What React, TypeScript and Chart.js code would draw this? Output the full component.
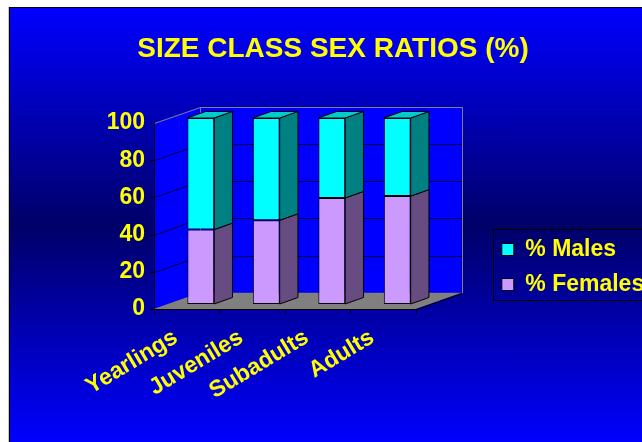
import React, { useEffect, useRef } from 'react';
import { Chart, registerables } from 'chart.js';

Chart.register(...registerables);

// ---- data ----
const TITLE = 'SIZE CLASS SEX RATIOS (%)';
const categories = ['Yearlings', 'Juveniles', 'Subadults', 'Adults'];
const femalesPct = [40, 45, 57, 58];
const malesPct = [60, 55, 43, 42];
const seriesNames = ['% Females', '% Males'];
const yMin = 0;
const yMax = 100;
const yStep = 20;

// ---- styles ----
const FONT = "'Liberation Sans', Arial, Helvetica, sans-serif";
const YELLOW = '#FFFF00';
const FEMALE_FRONT = '#CC99FF';
const FEMALE_SIDE = '#664C80';
const FEMALE_TOP = '#A37ACC';
const MALE_FRONT = '#00FFFF';
const MALE_SIDE = '#008080';
const MALE_TOP = '#00CCCC';
const WALL = '#0000FF';
const FLOOR = '#808080';
const FRAME = '#808080';
const GRID = '#000040';

// 3D projection: full depth vector and where the bar plane sits within it
const DEPTH_X = 45.7;
const DEPTH_Y = -16.3;
const BAR_PLANE = 0.31;
const BAR_DEPTH = 0.4;

const sideColors = [FEMALE_SIDE, MALE_SIDE];
const topColors = [FEMALE_TOP, MALE_TOP];

const snap = (v: number) => Math.round(v) + 0.5;

const threeD = {
  id: 'threeD',
  afterLayout(chart: any) {
    const lg = chart.legend;
    if (lg) {
      lg.left = 489.8;
      lg.top = 226;
      lg.right = 760;
      lg.bottom = 340;
      lg.width = lg.right - lg.left;
      lg.height = lg.bottom - lg.top;
    }
  },
  beforeDatasetsDraw(chart: any) {
    const { ctx, chartArea } = chart;
    const ys = chart.scales.y;
    const fdx = -BAR_PLANE * DEPTH_X;
    const fdy = -BAR_PLANE * DEPTH_Y;
    const bdx = (1 - BAR_PLANE) * DEPTH_X;
    const bdy = (1 - BAR_PLANE) * DEPTH_Y;
    const L = chartArea.left;
    const R = chartArea.right;
    const y0 = ys.getPixelForValue(yMin);
    const y1 = ys.getPixelForValue(yMax);
    const F = (x: number, y: number): [number, number] => [x + fdx, y + fdy];
    const B = (x: number, y: number): [number, number] => [x + bdx, y + bdy];

    const poly = (pts: [number, number][], fill: string) => {
      ctx.beginPath();
      pts.forEach((p, i) => (i ? ctx.lineTo(p[0], p[1]) : ctx.moveTo(p[0], p[1])));
      ctx.closePath();
      ctx.fillStyle = fill;
      ctx.fill();
    };
    const line = (pts: [number, number][], color: string) => {
      ctx.beginPath();
      pts.forEach((p, i) => (i ? ctx.lineTo(snap(p[0]), snap(p[1])) : ctx.moveTo(snap(p[0]), snap(p[1]))));
      ctx.strokeStyle = color;
      ctx.lineWidth = 1;
      ctx.stroke();
    };

    ctx.save();
    // walls and floor
    poly([B(L, y1), B(R, y1), B(R, y0), B(L, y0)], WALL);
    poly([F(L, y0), F(L, y1), B(L, y1), B(L, y0)], WALL);
    poly([F(L, y0), F(R, y0), B(R, y0), B(L, y0)], FLOOR);

    // gridlines on left and back walls
    ys.ticks.forEach((t: any) => {
      if (t.value <= yMin || t.value >= yMax) return;
      const py = ys.getPixelForValue(t.value);
      line([F(L, py), B(L, py), B(R, py)], GRID);
    });

    // wall frame
    line([F(L, y1), B(L, y1), B(R, y1), B(R, y0)], FRAME);
    line([B(L, y1), B(L, y0)], FRAME);
    line([F(L, y0), B(L, y0)], FRAME);

    // front axes
    line([F(L, y1), F(L, y0), F(R, y0), B(R, y0)], '#000000');
    ys.ticks.forEach((t: any) => {
      const p = F(L, ys.getPixelForValue(t.value));
      line([[p[0] - 4, p[1]], p], '#000000');
    });
    const n = categories.length;
    const cw = (R - L) / n;
    for (let i = 0; i <= n; i++) {
      const p = F(L + i * cw, y0);
      line([p, [p[0], p[1] + 4]], '#000000');
    }

    // bar sides and tops
    const sx = BAR_DEPTH * DEPTH_X;
    const sy = BAR_DEPTH * DEPTH_Y;
    const nds = chart.data.datasets.length;
    for (let d = 0; d < nds; d++) {
      const meta = chart.getDatasetMeta(d);
      meta.data.forEach((el: any) => {
        const { x, y, base, width } = el.getProps(['x', 'y', 'base', 'width'], true);
        const left = x - width / 2;
        const right = x + width / 2;
        const top = Math.min(y, base);
        const bottom = Math.max(y, base);
        const side: [number, number][] = [
          [right, top],
          [right + sx, top + sy],
          [right + sx, bottom + sy],
          [right, bottom],
        ];
        poly(side, sideColors[d]);
        ctx.beginPath();
        side.forEach((p, i) => (i ? ctx.lineTo(p[0], p[1]) : ctx.moveTo(p[0], p[1])));
        ctx.closePath();
        ctx.strokeStyle = '#000000';
        ctx.lineWidth = 1;
        ctx.stroke();
        if (d === nds - 1) {
          const topFace: [number, number][] = [
            [left, top],
            [left + sx, top + sy],
            [right + sx, top + sy],
            [right, top],
          ];
          poly(topFace, topColors[d]);
          ctx.beginPath();
          topFace.forEach((p, i) => (i ? ctx.lineTo(p[0], p[1]) : ctx.moveTo(p[0], p[1])));
          ctx.closePath();
          ctx.stroke();
        }
      });
    }
    ctx.restore();
  },
  afterDraw(chart: any) {
    const lg = chart.legend;
    if (!lg) return;
    const { ctx } = chart;
    ctx.save();
    ctx.strokeStyle = '#000000';
    ctx.lineWidth = 1;
    ctx.strokeRect(Math.round(lg.left + 2.7) + 0.5, Math.round(lg.top + 3) + 0.5, 300, 71);
    ctx.restore();
  },
};

export default function App() {
  const ref = useRef<HTMLCanvasElement>(null);

  useEffect(() => {
    const canvas = ref.current;
    if (!canvas) return;
    const tickFont = { family: FONT, size: 23, weight: 'bold' as const };
    const chart = new Chart(canvas, {
      type: 'bar',
      data: {
        labels: categories,
        datasets: [
          {
            label: seriesNames[0],
            data: femalesPct,
            backgroundColor: FEMALE_FRONT,
            borderColor: '#000000',
            borderWidth: 1,
            borderSkipped: false,
            barPercentage: 0.41,
            categoryPercentage: 1,
          },
          {
            label: seriesNames[1],
            data: malesPct,
            backgroundColor: MALE_FRONT,
            borderColor: '#000000',
            borderWidth: 1,
            borderSkipped: false,
            barPercentage: 0.41,
            categoryPercentage: 1,
          },
        ],
      },
      options: {
        responsive: false,
        animation: false,
        devicePixelRatio: 1,
        layout: { padding: { left: 96, right: 72, top: 0, bottom: 0 } },
        plugins: {
          title: {
            display: true,
            text: TITLE,
            color: YELLOW,
            font: { family: FONT, size: 28, weight: 'bold', lineHeight: 1.2 },
            padding: { top: 32.2, bottom: 52.2 },
          },
          legend: {
            display: true,
            position: 'right',
            align: 'start',
            reverse: true,
            fullSize: false,
            maxWidth: 140,
            labels: {
              color: YELLOW,
              font: tickFont,
              boxWidth: 12,
              boxHeight: 12,
              padding: 12,
            },
          },
          tooltip: { enabled: false },
        },
        scales: {
          x: {
            stacked: true,
            grid: { display: false, drawTicks: false },
            border: { display: false },
            ticks: {
              color: YELLOW,
              font: tickFont,
              minRotation: 31,
              maxRotation: 31,
              autoSkip: false,
              padding: 20,
              labelOffset: -25,
            },
            afterFit: (s: any) => {
              s.height = 138;
            },
          },
          y: {
            stacked: true,
            min: yMin,
            max: yMax,
            grid: { display: false, drawTicks: false },
            border: { display: false },
            ticks: {
              stepSize: yStep,
              color: YELLOW,
              font: tickFont,
              padding: 23,
              labelOffset: 5,
            },
            afterFit: (s: any) => {
              s.width = 72;
            },
          },
        },
      } as any,
      plugins: [threeD as any],
    });
    return () => chart.destroy();
  }, []);

  return (
    <div
      style={{
        position: 'fixed',
        left: 0,
        top: 0,
        width: '100vw',
        height: '100vh',
        overflow: 'hidden',
        background: '#FFFFFF',
      }}
    >
      <div style={{ position: 'absolute', left: 8, top: 7, width: 1, height: 440, background: '#C8C8C8' }} />
      <div
        style={{
          position: 'absolute',
          left: 9,
          top: 7,
          width: 700,
          height: 435,
          borderTop: '1px solid #000000',
          borderLeft: '1px solid #000000',
          background: 'linear-gradient(to bottom, #0000FF 0%, #000068 50%, #0000FF 100%)',
        }}
      />
      <canvas ref={ref} width={642} height={442} style={{ position: 'absolute', left: 0, top: 0 }} />
    </div>
  );
}
